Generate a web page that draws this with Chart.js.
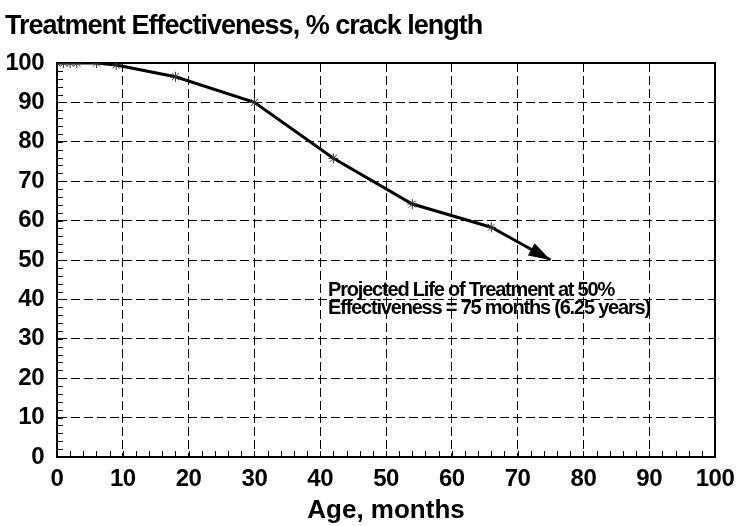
<!DOCTYPE html>
<html>
<head>
<meta charset="utf-8">
<script src="https://cdn.jsdelivr.net/npm/chart.js@4.4.0/dist/chart.umd.min.js"></script>
<style>
    html, body { margin: 0; padding: 0; background: #fff; }
    canvas { display: block; }
</style>
</head>
<body>
<canvas id="chart" width="739" height="526"></canvas>
<script>
// Data
const ages = [0, 1, 2, 3, 6, 9, 18, 30, 42, 54, 66];
const effectiveness = [100, 100, 100, 100, 100, 99.5, 96.5, 90, 75.8, 64.2, 58.3];
const projectedAges = [66, 75];
const projectedEffectiveness = [58.3, 50];
const xTicks = [0, 10, 20, 30, 40, 50, 60, 70, 80, 90, 100];
const yTicks = [0, 10, 20, 30, 40, 50, 60, 70, 80, 90, 100];
const minorStep = 2;

const chartTitle = 'Treatment Effectiveness, % crack length';
const xTitle = 'Age, months';
const noteLines = ['Projected Life of Treatment at 50%', 'Effectiveness = 75 months (6.25 years)'];
const noteAt = { x: 41.2, y: [40.9, 36.3] };

const family = '"Liberation Sans", Arial, sans-serif';

// Title, axis title, frame, minor ticks, arrowhead and note
const extras = {
    id: 'extras',
    beforeLayout(chart) {
        chart.ctx.letterSpacing = '-0.5px';
    },
    beforeDraw(chart) {
        const { ctx, chartArea: a } = chart;
        ctx.save();
        ctx.fillStyle = '#000';
        ctx.textBaseline = 'alphabetic';
        ctx.letterSpacing = '-1px';
        ctx.font = 'bold 27px ' + family;
        ctx.textAlign = 'left';
        ctx.fillText(chartTitle, 5, 34);
        ctx.letterSpacing = '0px';
        ctx.font = 'bold 26px ' + family;
        ctx.textAlign = 'center';
        ctx.fillText(xTitle, (a.left + a.right) / 2, 518);
        ctx.restore();
        ctx.letterSpacing = '-0.5px';
    },
    beforeDatasetsDraw(chart) {
        const { ctx, chartArea: a, scales: { x, y } } = chart;
        ctx.save();
        ctx.strokeStyle = '#000';
        ctx.lineWidth = 2;
        ctx.strokeRect(a.left, a.top, a.right - a.left, a.bottom - a.top);
        ctx.lineWidth = 1;
        ctx.beginPath();
        for (let v = y.min; v <= y.max; v += minorStep) {
            const py = Math.round(y.getPixelForValue(v)) + 0.5;
            ctx.moveTo(a.left, py);
            ctx.lineTo(a.left + 6, py);
        }
        for (let v = x.min; v <= x.max; v += minorStep) {
            const px = Math.round(x.getPixelForValue(v)) + 0.5;
            ctx.moveTo(px, a.bottom);
            ctx.lineTo(px, a.bottom - 6);
        }
        ctx.stroke();
        ctx.restore();
    },
    afterDatasetsDraw(chart) {
        const { ctx, scales: { x, y } } = chart;
        const pts = chart.getDatasetMeta(1).data;
        const p0 = pts[pts.length - 2], p1 = pts[pts.length - 1];
        const ang = Math.atan2(p1.y - p0.y, p1.x - p0.x);
        const len = 22, half = 7;
        ctx.save();
        ctx.fillStyle = '#000';
        ctx.translate(p1.x, p1.y);
        ctx.rotate(ang);
        ctx.beginPath();
        ctx.moveTo(0, 0);
        ctx.lineTo(-len, -half);
        ctx.lineTo(-len, half);
        ctx.closePath();
        ctx.fill();
        ctx.restore();

        ctx.save();
        ctx.letterSpacing = '-1.2px';
        ctx.fillStyle = '#000';
        ctx.font = 'bold 20px ' + family;
        ctx.textAlign = 'left';
        ctx.textBaseline = 'alphabetic';
        noteLines.forEach((t, i) => {
            ctx.fillText(t, x.getPixelForValue(noteAt.x), y.getPixelForValue(noteAt.y[i]));
        });
        ctx.restore();
    }
};

const tickFont = { family: family, size: 24, weight: 'bold' };

new Chart(document.getElementById('chart'), {
    type: 'line',
    data: {
        datasets: [
            {
                data: ages.map((a, i) => ({ x: a, y: effectiveness[i] })),
                borderColor: '#000',
                borderWidth: 3,
                pointStyle: 'star',
                pointRadius: 5,
                pointBorderColor: '#333',
                pointBorderWidth: 1,
                tension: 0
            },
            {
                data: projectedAges.map((a, i) => ({ x: a, y: projectedEffectiveness[i] })),
                borderColor: '#000',
                borderWidth: 3,
                pointRadius: 0,
                tension: 0
            }
        ]
    },
    plugins: [extras],
    options: {
        responsive: false,
        animation: false,
        events: [],
        layout: { padding: { left: 0, top: 63, right: 24, bottom: 0 } },
        plugins: {
            legend: { display: false },
            tooltip: { enabled: false }
        },
        scales: {
            x: {
                type: 'linear',
                min: 0,
                max: 100,
                afterBuildTicks: s => { s.ticks = xTicks.map(v => ({ value: v })); },
                afterFit: s => { s.height = 69; s.paddingLeft = 0; s.paddingRight = 0; },
                ticks: { font: tickFont, color: '#000', padding: 8, maxRotation: 0 },
                grid: { color: '#000', lineWidth: 1, drawTicks: false },
                border: { color: '#000', width: 2, dash: [9, 4] }
            },
            y: {
                min: 0,
                max: 100,
                afterBuildTicks: s => { s.ticks = yTicks.map(v => ({ value: v })); },
                afterFit: s => { s.width = 57; s.paddingTop = 0; s.paddingBottom = 0; },
                ticks: { font: tickFont, color: '#000', padding: 13 },
                grid: { color: '#000', lineWidth: 1, drawTicks: false },
                border: { color: '#000', width: 2, dash: [9, 4] }
            }
        }
    }
});
</script>
</body>
</html>
